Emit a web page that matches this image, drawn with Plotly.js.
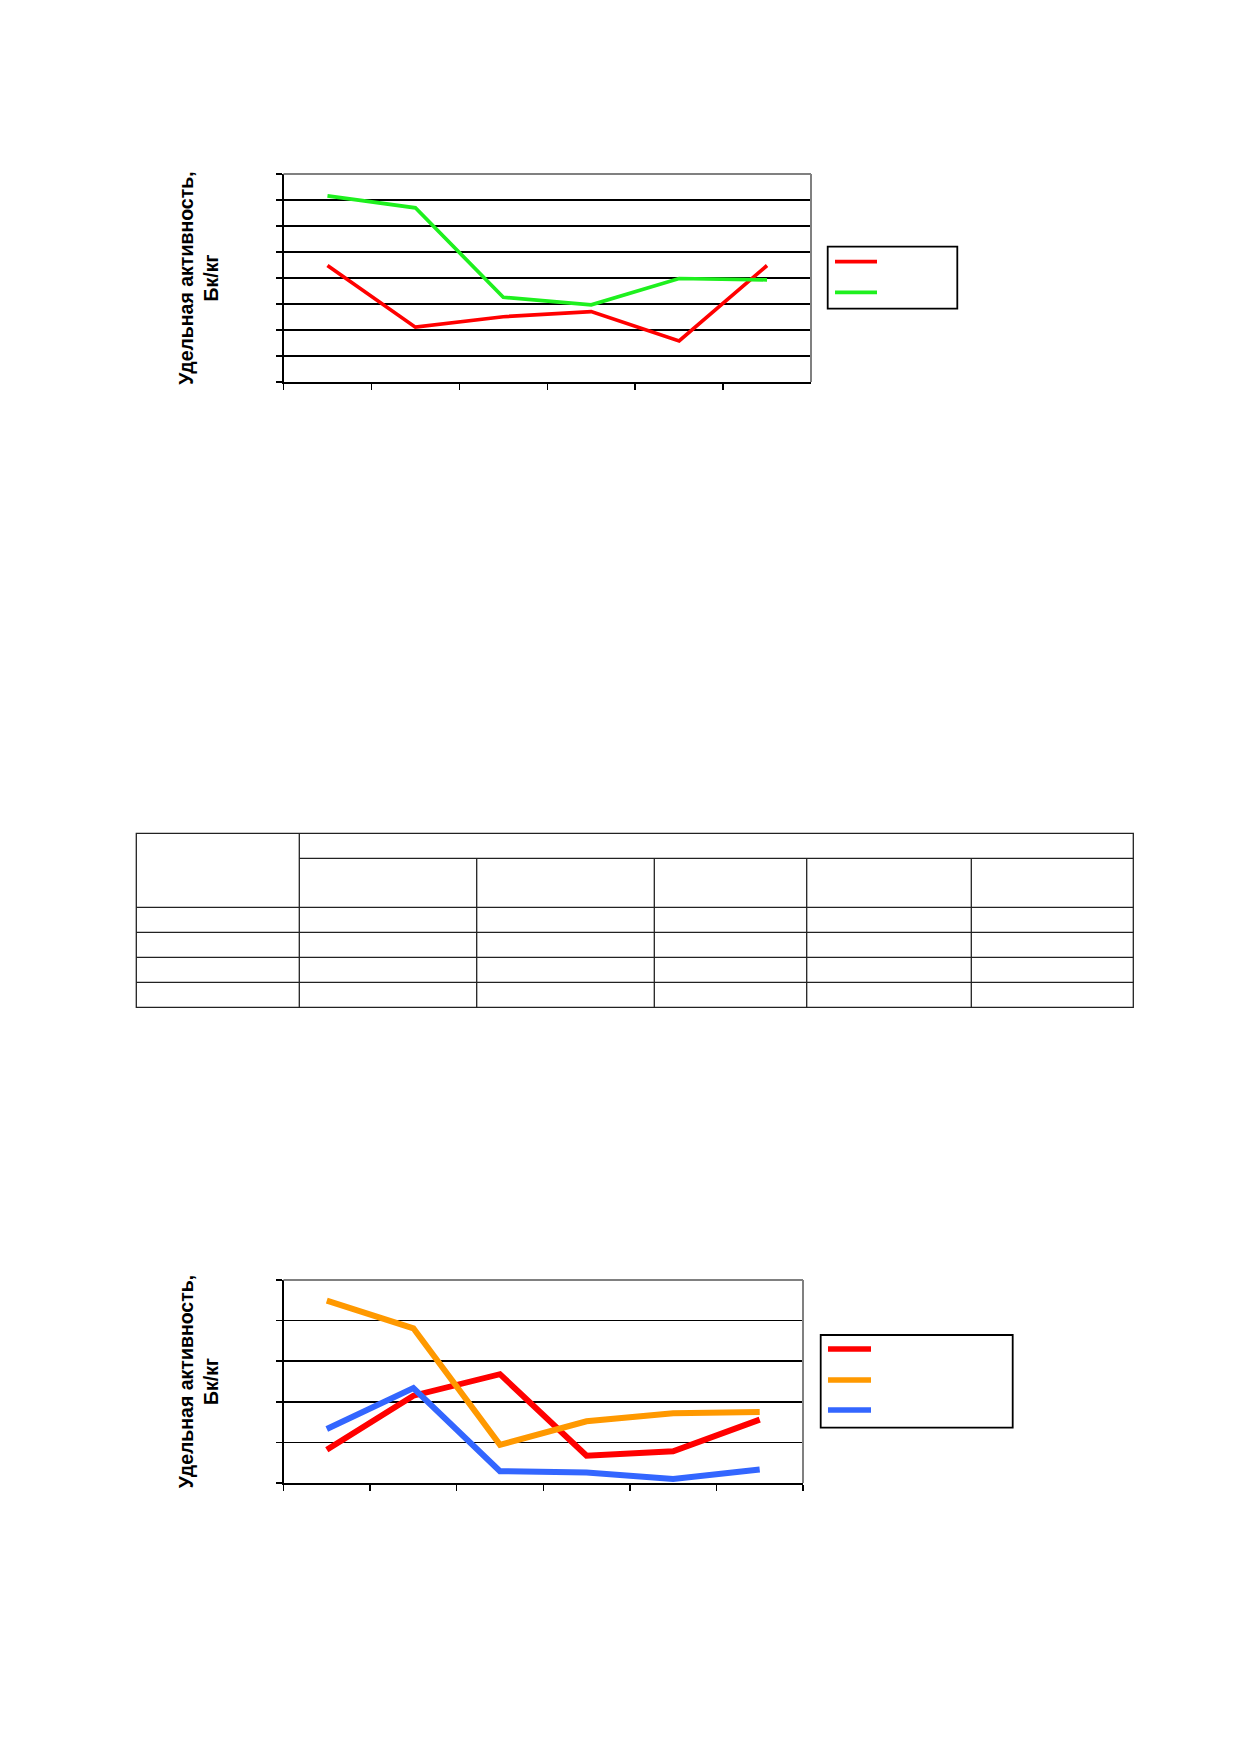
<!DOCTYPE html>
<html>
<head>
<meta charset="utf-8">
<script src="https://cdn.plot.ly/plotly-3.0.1.min.js"></script>
<style>
html,body{margin:0;padding:0;background:#fff;}
#chart{width:1239px;height:1752px;}
</style>
</head>
<body>
<div id="chart"></div>
<script>
// ---- data ----
const categories = ['1', '2', '3', '4', '5', '6'];
// chart 1 (values in gridline units)
const chart1Red   = [4.48, 2.11, 2.51, 2.71, 1.58, 4.48];
const chart1Green = [7.16, 6.70, 3.26, 2.97, 3.98, 3.93];
// chart 2 (values in gridline units)
const chart2Red    = [0.82, 2.15, 2.68, 0.67, 0.78, 1.56];
const chart2Orange = [4.49, 3.81, 0.94, 1.52, 1.72, 1.75];
const chart2Blue   = [1.33, 2.34, 0.29, 0.26, 0.10, 0.33];
const yTitle = '<b>Удельная активность,<br>Бк/кг</b>';

// ---- layout helpers ----
const W = 1239, H = 1752;
const px = v => v / W;
const py = v => 1 - v / H;

const traces = [
  {x: categories, y: chart1Red, type: 'scatter', mode: 'lines', line: {color: '#FF0000', width: 3.7}, xaxis: 'x', yaxis: 'y', showlegend: false, hoverinfo: 'skip'},
  {x: categories, y: chart1Green, type: 'scatter', mode: 'lines', line: {color: '#1EF01E', width: 3.7}, xaxis: 'x', yaxis: 'y', showlegend: false, hoverinfo: 'skip'},
  {x: categories, y: chart2Red, type: 'scatter', mode: 'lines', line: {color: '#FF0000', width: 6}, xaxis: 'x2', yaxis: 'y2', showlegend: false, hoverinfo: 'skip'},
  {x: categories, y: chart2Orange, type: 'scatter', mode: 'lines', line: {color: '#FF9900', width: 6}, xaxis: 'x2', yaxis: 'y2', showlegend: false, hoverinfo: 'skip'},
  {x: categories, y: chart2Blue, type: 'scatter', mode: 'lines', line: {color: '#3366FF', width: 6}, xaxis: 'x2', yaxis: 'y2', showlegend: false, hoverinfo: 'skip'}
];

const titleFont = {family: '"Liberation Sans", Arial, sans-serif', size: 19.5, color: '#000'};

function xAxis(domain, anchor) {
  return {
    domain: domain, anchor: anchor, type: 'category', range: [-0.5, categories.length - 0.5],
    tickson: 'boundaries', ticks: 'outside', ticklen: 6, tickwidth: 1.5, tickcolor: '#000',
    showticklabels: false, showgrid: false, zeroline: false,
    showline: true, linecolor: '#000', linewidth: 1.5, fixedrange: true
  };
}
function yAxis(domain, anchor, max) {
  return {
    domain: domain, anchor: anchor, range: [0, max], dtick: 1, tick0: 0,
    ticks: 'outside', ticklen: 6, tickwidth: 1.5, tickcolor: '#000',
    showticklabels: false, showgrid: true, gridcolor: '#000', gridwidth: 1.7, zeroline: false,
    showline: true, linecolor: '#000', linewidth: 1.5, fixedrange: true,
    title: {text: yTitle, font: titleFont, standoff: 52}
  };
}

const shapes = [];
function line(x0, y0, x1, y1, color, width) {
  shapes.push({type: 'line', xref: 'paper', yref: 'paper', x0: px(x0), y0: py(y0), x1: px(x1), y1: py(y1), line: {color: color, width: width}});
}
function rect(x0, y0, x1, y1, color, width) {
  shapes.push({type: 'rect', xref: 'paper', yref: 'paper', x0: px(x0), y0: py(y0), x1: px(x1), y1: py(y1), line: {color: color, width: width}, fillcolor: 'rgba(0,0,0,0)'});
}

// plot-area borders (top & right, grey)
function plotBorder(xr, yr) {
  shapes.push({type: 'line', xref: xr + ' domain', yref: yr + ' domain', x0: 0, x1: 1, y0: 1, y1: 1, line: {color: '#808080', width: 2}});
  shapes.push({type: 'line', xref: xr + ' domain', yref: yr + ' domain', x0: 1, x1: 1, y0: 0, y1: 1, line: {color: '#808080', width: 2}});
}
plotBorder('x', 'y');
plotBorder('x2', 'y2');

// legends (entries have no visible text)
rect(827.7, 246.7, 957.3, 308.7, '#000', 1.8);
line(835, 261.7, 877, 261.7, '#FF0000', 3.7);
line(835, 292.3, 877, 292.3, '#1EF01E', 3.7);

rect(820.7, 1335, 1012.7, 1427.7, '#000', 1.8);
line(828, 1349, 871, 1349, '#FF0000', 5.5);
line(828, 1380, 871, 1380, '#FF9900', 5.5);
line(828, 1410, 871, 1410, '#3366FF', 5.5);

// empty table grid
const tc = '#222';
const tw = 1.3;
const colX = [136.3, 299.3, 476.7, 654.3, 806.7, 971.3, 1133.3];
const rowY = [833.3, 858.3, 907.3, 932.3, 957.3, 982.3, 1007.3];
rect(colX[0], rowY[0], colX[6], rowY[6], tc, tw);
line(colX[1], rowY[1], colX[6], rowY[1], tc, tw);
for (let r = 2; r < rowY.length - 1; r++) line(colX[0], rowY[r], colX[6], rowY[r], tc, tw);
line(colX[1], rowY[0], colX[1], rowY[6], tc, tw);
for (let c = 2; c < colX.length - 1; c++) line(colX[c], rowY[1], colX[c], rowY[6], tc, tw);

const layout = {
  width: W, height: H,
  margin: {l: 0, r: 0, t: 0, b: 0},
  paper_bgcolor: '#fff', plot_bgcolor: '#fff',
  showlegend: false,
  font: {family: '"Liberation Sans", Arial, sans-serif', color: '#000'},
  xaxis: xAxis([px(283.5), px(811)], 'y'),
  yaxis: yAxis([py(382), py(174)], 'x', 8),
  xaxis2: xAxis([px(283.5), px(803)], 'y2'),
  yaxis2: yAxis([py(1483), py(1280)], 'x2', 5),
  shapes: shapes
};

Plotly.newPlot('chart', traces, layout, {staticPlot: true, displayModeBar: false});
</script>
</body>
</html>
